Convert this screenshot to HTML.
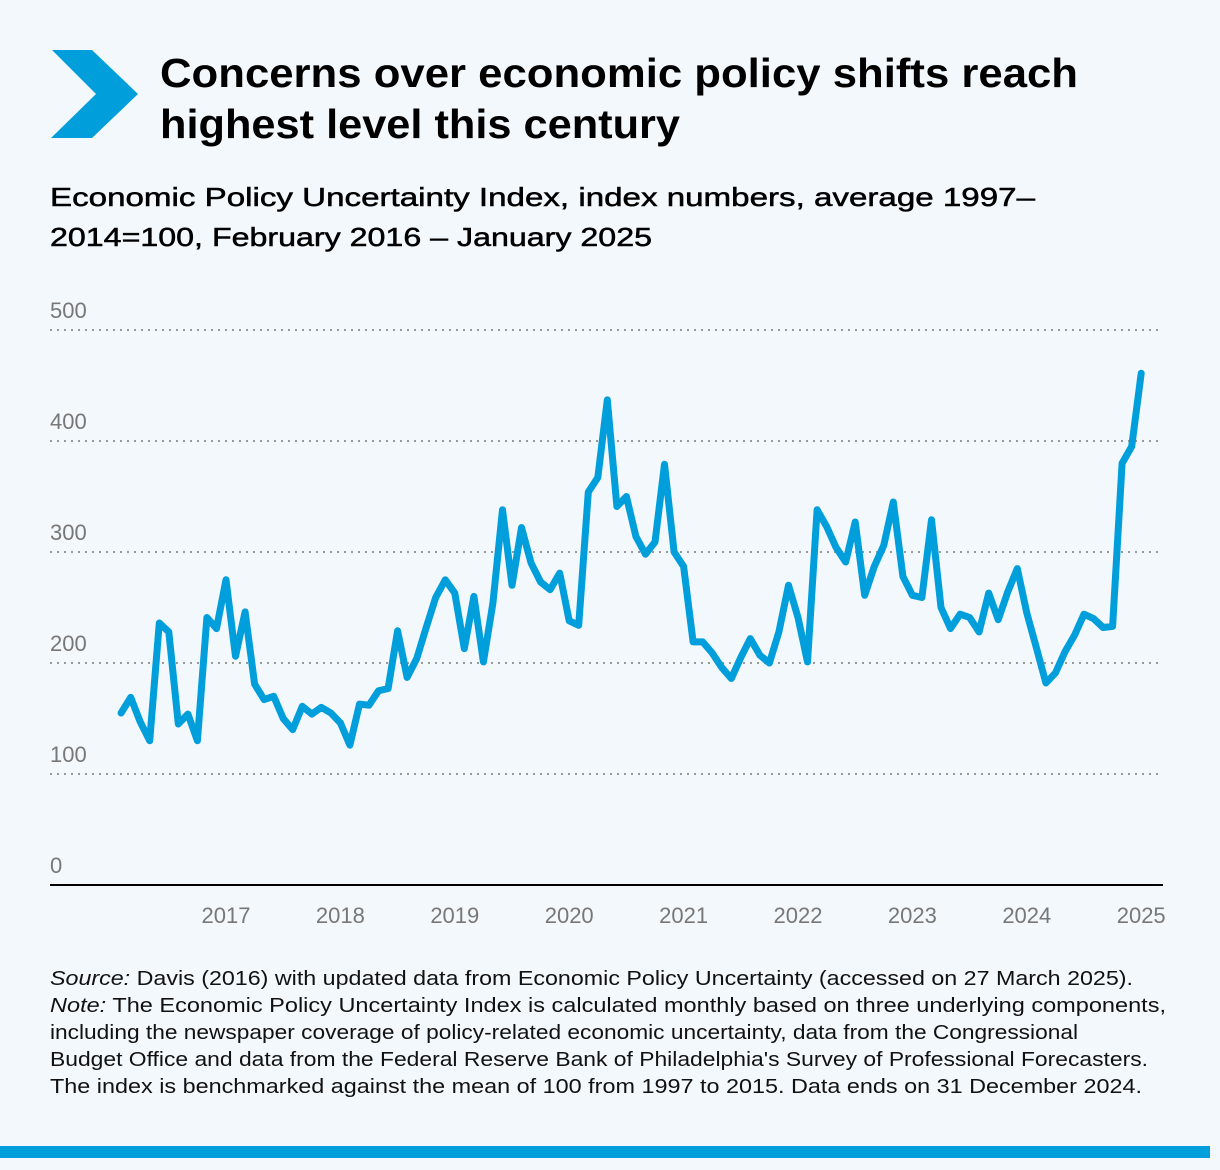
<!DOCTYPE html>
<html><head><meta charset="utf-8"><style>
html,body{margin:0;padding:0;background:#f3f8fc;}
svg{display:block;font-family:"Liberation Sans",Arial,sans-serif;}
</style></head><body>
<svg width="1220" height="1170" viewBox="0 0 1220 1170" xmlns="http://www.w3.org/2000/svg">
<rect x="0" y="0" width="1220" height="1170" fill="#f3f8fc"/>
<polygon points="52,50 92,50 138,94 92,138 51,138 96,94" fill="#009fdb"/>
<g font-weight="bold" font-size="41" fill="#000">
<text x="160" y="87" textLength="918" lengthAdjust="spacingAndGlyphs">Concerns over economic policy shifts reach</text>
<text x="160" y="138" textLength="520" lengthAdjust="spacingAndGlyphs">highest level this century</text>
</g>
<g font-size="26" fill="#000" stroke="#000" stroke-width="0.5">
<text x="50" y="206" textLength="985" lengthAdjust="spacingAndGlyphs">Economic Policy Uncertainty Index, index numbers, average 1997–</text>
<text x="50" y="246" textLength="602" lengthAdjust="spacingAndGlyphs">2014=100, February 2016 – January 2025</text>
</g>
<g id="grid"></g>
<g id="ylabels"></g>
<g id="xlabels"></g>
<line x1="50" y1="885" x2="1163" y2="885" stroke="#000" stroke-width="2"/>
<path id="series" fill="none" stroke="#009fdb" stroke-width="7" stroke-linejoin="round" stroke-linecap="round"/>
<g font-size="20" fill="#111">
<text x="50" y="985" textLength="1083" lengthAdjust="spacingAndGlyphs"><tspan font-style="italic">Source:</tspan> Davis (2016) with updated data from Economic Policy Uncertainty (accessed on 27 March 2025).</text>
<text x="50" y="1012" textLength="1116" lengthAdjust="spacingAndGlyphs"><tspan font-style="italic">Note:</tspan> The Economic Policy Uncertainty Index is calculated monthly based on three underlying components,</text>
<text x="50" y="1039" textLength="1028" lengthAdjust="spacingAndGlyphs">including the newspaper coverage of policy-related economic uncertainty, data from the Congressional</text>
<text x="50" y="1066" textLength="1098" lengthAdjust="spacingAndGlyphs">Budget Office and data from the Federal Reserve Bank of Philadelphia's Survey of Professional Forecasters.</text>
<text x="50" y="1093" textLength="1092" lengthAdjust="spacingAndGlyphs">The index is benchmarked against the mean of 100 from 1997 to 2015. Data ends on 31 December 2024.</text>
</g>
<rect x="0" y="1146" width="1210" height="12" fill="#009fdb"/>
</svg>
<script>
const values = [155,169,147,130,236,228,145,154,130,241,231,275,206,246,181,167,170,150,140,161,154,160,155,146,126,163,162,175,177,229,187,204,232,259,275,263,
213,260,201,254,338,270,322,290,273,266,281,238,234,354,367,437,341,350,314,298,309,379,300,287,219,219,209,196,186,205,222,207,200,228,270,241,201,338,323,304,291,327,261,287,306,345,278,261,259,329,250,231,244,241,228,263,239,264,285,245,214,182,191,210,225,244,240,232,233,380,395,461];
const yTicks = [0,100,200,300,400,500];
const xTickLabels = ["2017","2018","2019","2020","2021","2022","2023","2024","2025"];
const startYear = 2016, startMonth = 1; // Feb 2016 (0-based month)

const NS = "http://www.w3.org/2000/svg";
function yScale(v){ return 885 - v * 1.11; }
function xScale(i){ const m = startYear*12 + startMonth + i; return 111.6 + (m - 2016*12) * (114.4/12); }
function xYear(y){ return 111.6 + (y - 2016) * 114.4; }

const grid = document.getElementById('grid'), yl = document.getElementById('ylabels'), xl = document.getElementById('xlabels');
yTicks.forEach(t => {
  if (t > 0) {
    const l = document.createElementNS(NS,'line');
    l.setAttribute('x1',50); l.setAttribute('x2',1163);
    l.setAttribute('y1',yScale(t)); l.setAttribute('y2',yScale(t));
    l.setAttribute('stroke','#999'); l.setAttribute('stroke-width','2'); l.setAttribute('stroke-dasharray','2 5');
    
    
    grid.appendChild(l);
  }
  const tx = document.createElementNS(NS,'text');
  tx.setAttribute('x',50); tx.setAttribute('y',yScale(t)-12);
  tx.setAttribute('font-size','22'); tx.setAttribute('fill','#777');
  tx.textContent = t;
  
  
  yl.appendChild(tx);
});
xTickLabels.forEach(lab => {
  const tx = document.createElementNS(NS,'text');
  tx.setAttribute('x',xYear(+lab)); tx.setAttribute('y',923);
  tx.setAttribute('font-size','22'); tx.setAttribute('fill','#777'); tx.setAttribute('text-anchor','middle');
  tx.textContent = lab;
  
  
  xl.appendChild(tx);
});
document.getElementById('series').setAttribute('d', values.map((v,i)=>(i?'L':'M')+xScale(i).toFixed(1)+','+yScale(v).toFixed(1)).join(' '));
</script>
</body></html>
